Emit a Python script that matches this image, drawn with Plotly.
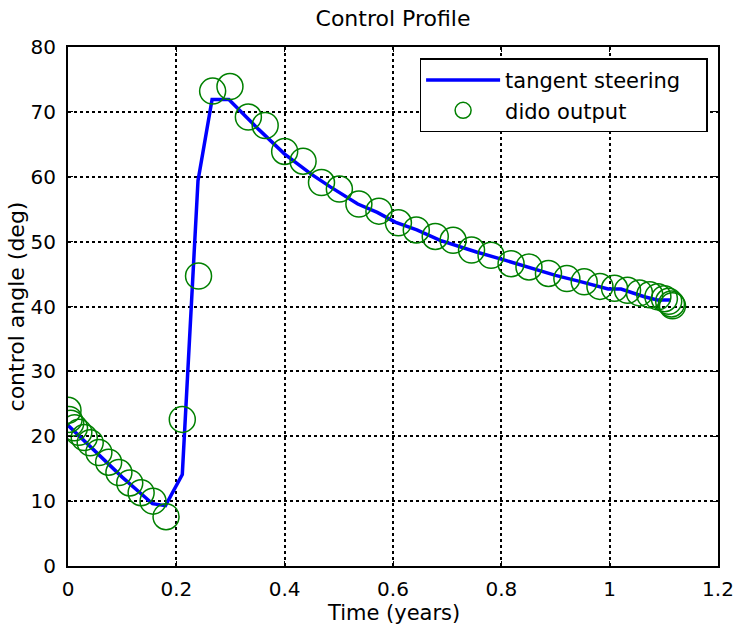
import plotly.graph_objects as go

# tangent steering control profile
steer_t = [0.000, 0.050, 0.100, 0.156, 0.180, 0.211, 0.240, 0.266, 0.297, 0.352, 0.400,
           0.449, 0.485, 0.535, 0.571, 0.604, 0.644, 0.687, 0.754, 0.808, 0.900, 0.948,
           0.997, 1.021, 1.064, 1.088, 1.113]
steer_deg = [21.7, 17.7, 13.7, 9.6, 9.3, 14.1, 59.4, 71.9, 71.9, 67.3, 63.5,
             60.4, 58.4, 55.8, 54.5, 53.0, 51.8, 50.2, 48.4, 47.1, 44.8, 43.8,
             42.7, 42.7, 41.5, 41.0, 41.0]

# DIDO output nodes
dido_t = [0.000, 0.002, 0.005, 0.012, 0.020, 0.030, 0.041, 0.057, 0.075, 0.094, 0.114,
          0.135, 0.157, 0.181, 0.211, 0.241, 0.267, 0.299, 0.333, 0.364, 0.400, 0.434,
          0.468, 0.501, 0.537, 0.574, 0.610, 0.643, 0.678, 0.711, 0.745, 0.781, 0.818,
          0.851, 0.887, 0.921, 0.953, 0.982, 1.009, 1.033, 1.055, 1.074, 1.089, 1.101,
          1.109, 1.114, 1.116]
dido_deg = [24.0, 22.6, 22.0, 21.3, 20.6, 19.8, 19.0, 17.5, 16.0, 14.4, 12.8,
            11.3, 10.0, 7.6, 22.6, 44.7, 73.2, 73.9, 69.2, 67.9, 63.9, 62.4,
            59.1, 58.1, 55.8, 54.7, 52.9, 51.8, 50.8, 50.2, 48.7, 47.9, 46.6,
            46.1, 45.1, 44.3, 43.8, 43.1, 42.8, 42.5, 42.1, 41.8, 41.5, 41.2,
            40.8, 40.4, 40.1]

x_ticks = [0, 0.2, 0.4, 0.6, 0.8, 1.0, 1.2]
x_tick_text = ["0", "0.2", "0.4", "0.6", "0.8", "1", "1.2"]
y_ticks = [0, 10, 20, 30, 40, 50, 60, 70, 80]

FONT = "'DejaVu Sans', Verdana, sans-serif"

fig = go.Figure()
fig.add_trace(go.Scatter(
    x=steer_t, y=steer_deg, mode="lines", name="tangent steering\u00a0\u00a0\u00a0",
    line=dict(color="#0000ff", width=3.5),
))
fig.add_trace(go.Scatter(
    x=dido_t, y=dido_deg, mode="markers", name="dido output",
    marker=dict(symbol="circle-open", size=26, color="#008000",
                line=dict(color="#008000", width=1.5)),
))

axis_common = dict(
    showline=True, linecolor="black", linewidth=2, mirror="ticks",
    ticks="inside", ticklen=5, tickcolor="black",
    showgrid=True, gridcolor="black", griddash="dot", gridwidth=1.5,
    zeroline=False, tickfont=dict(family=FONT, size=20, color="black"),
)

fig.update_xaxes(range=[0, 1.2], tickvals=x_ticks, ticktext=x_tick_text,
                 ticklabelstandoff=4, **axis_common)
fig.update_yaxes(range=[0, 80], tickvals=y_ticks, ticklabelstandoff=6,
                 title=dict(text="control angle (deg)", font=dict(family=FONT, size=22, color="black"),
                            standoff=0),
                 **axis_common)

fig.update_layout(
    width=746, height=629,
    margin=dict(l=68, r=20, t=47, b=63),
    paper_bgcolor="white", plot_bgcolor="white",
    title=dict(text="Control Profile", x=0.5, xref="paper", xanchor="center",
               y=0.971, yanchor="middle",
               font=dict(family=FONT, size=22, color="black")),
    showlegend=True,
    legend=dict(x=0.984, y=0.978, xanchor="right", yanchor="top",
                bgcolor="white", bordercolor="black", borderwidth=1.5,
                font=dict(family=FONT, size=21, color="black"),
                itemwidth=74, tracegroupgap=0),
    annotations=[dict(text="Time (years)", x=0.5, y=0, xref="paper", yref="paper",
                      xanchor="center", yanchor="middle", yshift=-47, showarrow=False,
                      font=dict(family=FONT, size=21, color="black"))],
)

fig.write_html("out.html")
